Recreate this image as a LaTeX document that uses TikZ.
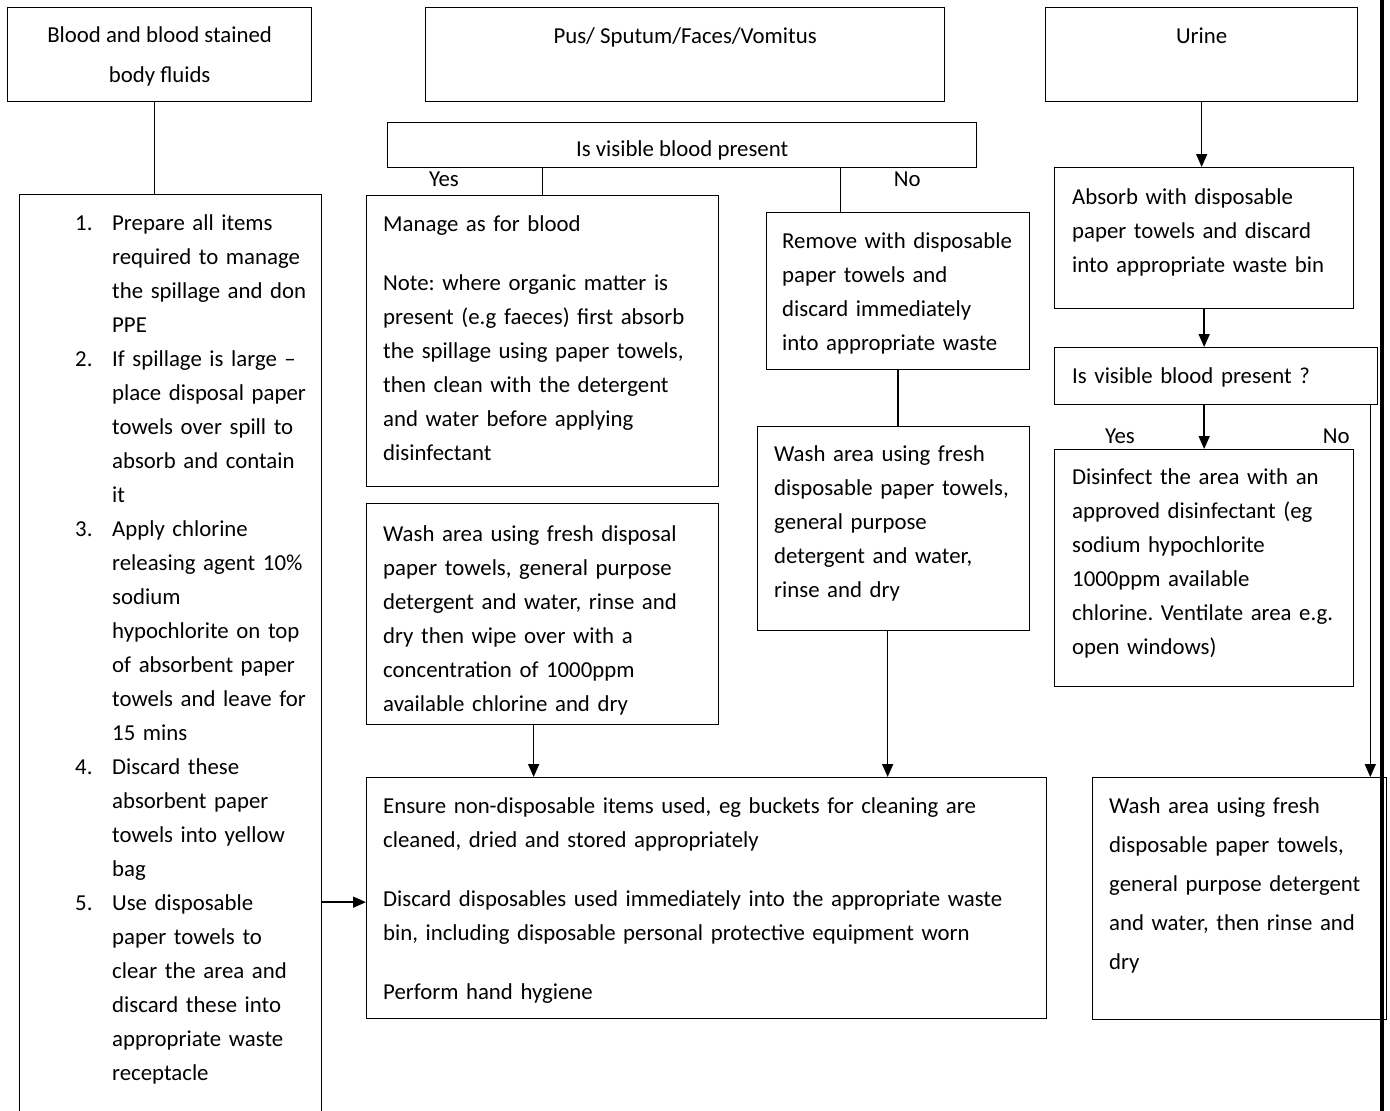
\documentclass[tikz,border=0pt]{standalone}
\usepackage{fontspec}
\setmainfont{Carlito}
\usetikzlibrary{arrows.meta, positioning, calc}

\newcommand\bodyfont{\fontsize{22.8}{34}\selectfont\frenchspacing}
\newcommand\tstrut{\rule{0pt}{17pt}}
\newcommand\stepitem[2]{\noindent\hangindent=37pt\hangafter=1\makebox[37pt][l]{#1}#2\par}

\tikzset{
  box/.style={draw=black, line width=1.3pt, anchor=north west, inner sep=0pt},
  txt/.style={anchor=north west, inner sep=0pt, align=left, font=\bodyfont},
  ctxt/.style={anchor=north, inner sep=0pt, align=center, font=\bodyfont},
  tag/.style={anchor=base, inner sep=0pt, font=\bodyfont},
  link/.style={draw=black, line width=1.6pt},
  flow/.style={link, -{Triangle[length=13pt, width=11pt]}}
}

\begin{document}
\begin{tikzpicture}[x=1pt, y=1pt]
  \useasboundingbox[fill=white] (0,0) rectangle (1390,-1111);

  \node[box, minimum width=304pt, minimum height=94pt] (bloodTop) at (7,-7) {};
  \node[box, minimum width=519pt, minimum height=94pt] (pusTop) at (425,-7) {};
  \node[box, minimum width=312pt, minimum height=94pt] (urineTop) at (1045,-7) {};
  \node[box, minimum width=589pt, minimum height=45pt] (question) at (387,-122) {};
  \node[box, minimum width=302pt, minimum height=940pt] (listBox) at (19,-194) {};
  \node[box, minimum width=352pt, minimum height=291pt] (manage) at (366,-195) {};
  \node[box, minimum width=263pt, minimum height=157pt] (remove) at (766,-212) {};
  \node[box, minimum width=272pt, minimum height=204pt] (wash2) at (757,-426) {};
  \node[box, minimum width=352pt, minimum height=221pt] (wash1) at (366,-503) {};
  \node[box, minimum width=680pt, minimum height=241pt] (ensure) at (366,-777) {};
  \node[box, minimum width=299pt, minimum height=141pt] (absorb) at (1054,-167) {};
  \node[box, minimum width=323pt, minimum height=57pt] (q2) at (1054,-347) {};
  \node[box, minimum width=299pt, minimum height=237pt] (disinfect) at (1054,-449) {};
  \node[box, minimum width=294pt, minimum height=242pt] (final) at (1092,-777) {};

  \node[ctxt, font=\fontsize{22.8}{40}\selectfont] (bloodTxt) at ([yshift=-18pt]bloodTop.north) {\tstrut Blood and blood stained\\body fluids};
  \node[ctxt] (pusTxt) at ([yshift=-19pt]pusTop.north) {\tstrut Pus/ Sputum/Faces/Vomitus};
  \node[ctxt] (urineTxt) at ([yshift=-19pt]urineTop.north) {\tstrut Urine};
  \node[ctxt] (questionTxt) at ([yshift=-17pt]question.north) {\tstrut Is visible blood present};
  \node[tag] (yesTxt) at ($(question.south west)+(57,-18)$) {Yes};
  \node[tag] (noTxt) at ($(question.south east)+(-70,-18)$) {No};

  \node[txt, text width=240pt] (listTxt) at ($(listBox.north west)+(56,-19)$) {%
    \stepitem{1.}{\tstrut Prepare all items\newline required to manage\newline the spillage and don\newline PPE}%
    \stepitem{2.}{If spillage is large –\newline place disposal paper\newline towels over spill to\newline absorb and contain\newline it}%
    \stepitem{3.}{Apply chlorine\newline releasing agent 10\%\newline sodium\newline hypochlorite on top\newline of absorbent paper\newline towels and leave for\newline 15 mins}%
    \stepitem{4.}{Discard these\newline absorbent paper\newline towels into yellow\newline bag}%
    \stepitem{5.}{Use disposable\newline paper towels to\newline clear the area and\newline discard these into\newline appropriate waste\newline receptacle}};
  \node[txt, text width=325pt] (manageTxt) at ($(manage.north west)+(17,-19)$) {\tstrut Manage as for blood\\[25pt]Note: where organic matter is\\present (e.g faeces) first absorb\\the spillage using paper towels,\\then clean with the detergent\\and water before applying\\disinfectant};
  \node[txt, text width=240pt] (removeTxt) at ($(remove.north west)+(16,-19)$) {\tstrut Remove with disposable\\paper towels and\\discard immediately\\into appropriate waste};
  \node[txt, text width=250pt] (wash2Txt) at ($(wash2.north west)+(17,-18)$) {\tstrut Wash area using fresh\\disposable paper towels,\\general purpose\\detergent and water,\\rinse and dry};
  \node[txt, text width=325pt] (wash1Txt) at ($(wash1.north west)+(17,-21)$) {\tstrut Wash area using fresh disposal\\paper towels, general purpose\\detergent and water, rinse and\\dry then wipe over with a\\concentration of 1000ppm\\available chlorine and dry};
  \node[txt, text width=650pt] (ensureTxt) at ($(ensure.north west)+(17,-19)$) {\tstrut Ensure non-disposable items used, eg buckets for cleaning are\\cleaned, dried and stored appropriately\\[25pt]Discard disposables used immediately into the appropriate waste\\bin, including disposable personal protective equipment worn\\[25pt]Perform hand hygiene};
  \node[txt, text width=275pt] (absorbTxt) at ($(absorb.north west)+(18,-20)$) {\tstrut Absorb with disposable\\paper towels and discard\\into appropriate waste bin};
  \node[txt, text width=290pt] (q2Txt) at ($(q2.north west)+(18,-19)$) {\tstrut Is visible blood present ?};
  \node[tag] (yes2Txt) at ($(q2.south west)+(66,-38)$) {Yes};
  \node[tag] (no2Txt) at ($(q2.south east)+(-42,-38)$) {No};
  \node[txt, text width=275pt] (disinfectTxt) at ($(disinfect.north west)+(18,-18)$) {\tstrut Disinfect the area with an\\approved disinfectant (eg\\sodium hypochlorite\\1000ppm available\\chlorine. Ventilate area e.g.\\open windows)};
  \node[txt, text width=270pt, font=\fontsize{22.8}{39}\selectfont\frenchspacing] (finalTxt) at ($(final.north west)+(17,-19)$) {\tstrut Wash area using fresh\\disposable paper towels,\\general purpose detergent\\and water, then rinse and\\dry};

  \coordinate (bloodOut) at ($(bloodTop.south)+(-5,0)$);
  \coordinate (noBranch) at ($(question.south east)+(-137,0)$);
  \coordinate (wash1Out) at ($(wash1.south)+(-9,0)$);
  \coordinate (wash2Out) at ($(wash2.south)+(-6,0)$);
  \coordinate (listOut) at ($(ensure.west -| listBox.east)+(0,-4)$);
  \coordinate (ensureIn) at ($(ensure.west)+(0,-4)$);
  \coordinate (urineNo) at ($(q2.south east)+(-8,0)$);

  \draw[link] (bloodOut) -- (bloodOut |- listBox.north);
  \draw[link] (question.south -| manage.north) -- (manage.north);
  \draw[link] (noBranch) -- (noBranch |- remove.north);
  \draw[link] (remove.south) -- (remove.south |- wash2.north);
  \draw[flow] (wash1Out) -- (wash1Out |- ensure.north);
  \draw[flow] (wash2Out) -- (wash2Out |- ensure.north);
  \draw[flow] (listOut) -- (ensureIn);
  \draw[flow] (urineTop.south) -- (urineTop.south |- absorb.north);
  \draw[flow] (absorb.south) -- (absorb.south |- q2.north);
  \draw[flow] (q2.south -| disinfect.north) -- (disinfect.north);
  \draw[flow] (urineNo) -- (urineNo |- final.north);

  \draw[line width=4pt] (1382,0) -- (1382,-1111);
\end{tikzpicture}
\end{document}
